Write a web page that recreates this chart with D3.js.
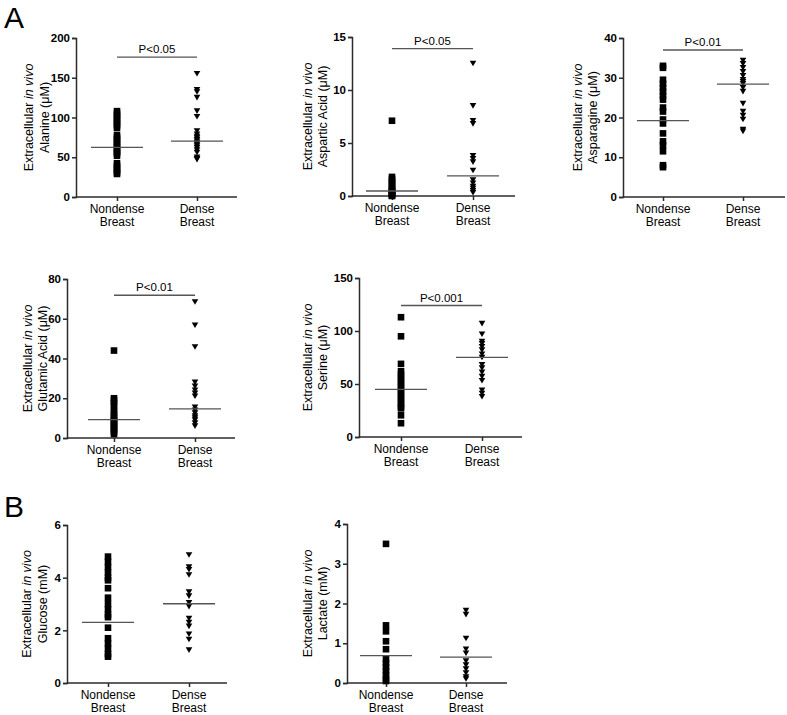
<!DOCTYPE html>
<html><head><meta charset="utf-8">
<script src="https://cdnjs.cloudflare.com/ajax/libs/d3/7.8.5/d3.min.js"></script>
<style>
body{margin:0;background:#fff;}
svg{display:block;font-family:"Liberation Sans",Arial,Helvetica,sans-serif;}
</style></head>
<body><svg id="chart" width="787" height="715"></svg>
<script>
// ---------------- data ----------------
const categories = ["Nondense", "Dense"];
const categorySub = "Breast";
const analytes = ["Alanine (μM)", "Aspartic Acid (μM)", "Asparagine (μM)", "Glutamic Acid (μM)", "Serine (μM)", "Glucose (mM)", "Lactate (mM)"];
const yMax = [200, 15, 40, 80, 150, 6, 4];
const yTicks = [[0,50,100,150,200],[0,5,10,15],[0,10,20,30,40],[0,20,40,60,80],[0,50,100,150],[0,2,4,6],[0,1,2,3,4]];

const alanineNondense = [108,105,102,99,96,93,90,87,78,75,72,69,66,63,60,57,55,52,42.5,39.5,36.5,33.5,31,29];
const alanineDense = [155,135,132,125,108,101,83,79,76,74,72,70,68,66,64,62,59,56,50,48,47];
const asparticNondense = [7.1,1.8,1.6,1.4,1.2,1.0,0.8,0.6,0.5,0.4,0.3,0.2,0.1,0.05,0.0];
const asparticDense = [12.5,8.5,7.1,6.8,3.8,3.5,3.2,2.4,1.5,1.2,0.9,0.7,0.5,0.3];
const asparagineNondense = [33,32.5,29.5,28.5,27.5,26.5,25.5,24.5,22.5,21.5,19.5,18.5,16,14,13,11.5,8,7.5];
const asparagineDense = [34.3,33.5,32.5,31.5,30.5,29.5,29,28.5,27.5,26.5,23.5,21.5,20.5,19.5,17,16.5];
const glutamicNondense = [44,20,19,17.5,16,14,12.5,11,10,9,8,7,6,5,4,3,2];
const glutamicDense = [68.4,56.7,45.8,28,26,24,22.5,21,15.5,14,12.5,11,10,9,7.5,6];
const serineNondense = [113,95,69,62,59,56,53,50,47,44,41,38,35,32,29,27,20.5,13];
const serineDense = [107,97,90,88,85,82,78,75,68,65,61,57,53,44,41,38];
const glucoseNondense = [4.8,4.6,4.4,4.2,4.0,3.9,3.6,3.24,3.0,2.8,2.6,2.5,2.1,1.7,1.5,1.3,1.1,1.0];
const glucoseDense = [4.86,4.4,4.3,4.1,3.45,3.3,3.05,2.9,2.45,2.3,2.15,1.85,1.65,1.25];
const lactateNondense = [3.5,1.45,1.3,1.05,0.85,0.6,0.5,0.4,0.3,0.2,0.1,0.05];
const lactateDense = [1.82,1.72,1.12,0.85,0.75,0.55,0.45,0.35,0.25,0.15,0.1];

const nondenseSeries = [alanineNondense, asparticNondense, asparagineNondense, glutamicNondense, serineNondense, glucoseNondense, lactateNondense];
const denseSeries = [alanineDense, asparticDense, asparagineDense, glutamicDense, serineDense, glucoseDense, lactateDense];
const centreNondense = [62.5, 0.47, 19.2, 9.2, 45, 2.3, 0.69];
const centreDense = [70.4, 1.9, 28.4, 14.7, 75.2, 3.01, 0.65];
const pLabels = ["P<0.05", "P<0.05", "P<0.01", "P<0.01", "P<0.001", null, null];
const bracketValue = [176, 13.9, 37, 71.8, 124, null, null];
const panelLetters = ["A", "B"];

// ---------------- layout ----------------
const layout = [
  {x0:76,  x1:237, yTop:38,  yBot:197, cL:117, cR:197, l1:47, l2:31},
  {x0:352, x1:515, yTop:37,  yBot:196, cL:392, cR:473, l1:44, l2:29},
  {x0:623, x1:785, yTop:38,  yBot:197, cL:663, cR:743, l1:45, l2:30},
  {x0:67,  x1:235, yTop:279, yBot:438, cL:114, cR:195, l1:39, l2:24},
  {x0:359, x1:522, yTop:278, yBot:437, cL:401, cR:482, l1:51, l2:36},
  {x0:67,  x1:227, yTop:525, yBot:683, cL:108, cR:189, l1:40, l2:24},
  {x0:347, x1:507, yTop:524, yBot:683, cL:386, cR:466, l1:39, l2:24}
];
const letterPos = [{x:4, y:28}, {x:4, y:517}];

const svg = d3.select("#chart");
const axisColor = "#2b2b2b";
const lineColor = "#555";

panelLetters.forEach((t, i) => {
  svg.append("text").attr("x", letterPos[i].x).attr("y", letterPos[i].y)
    .attr("font-size", 30).attr("fill", "#000").text(t);
});

const sq = 6.6, triW = 6.6, triH = 5.6;

analytes.forEach((name, i) => {
  const L = layout[i];
  const g = svg.append("g");
  const y = d3.scaleLinear().domain([0, yMax[i]]).range([L.yBot, L.yTop]);
  const x = d3.scalePoint().domain(categories).range([L.cL, L.cR]);

  // y axis
  const ya = g.append("g").attr("transform", `translate(${L.x0},0)`)
    .call(d3.axisLeft(y).tickValues(yTicks[i]).tickSize(4).tickPadding(2).tickFormat(d3.format("d")));
  ya.select(".domain").attr("stroke", axisColor).attr("stroke-width", 1.5);
  ya.selectAll(".tick line").attr("stroke", axisColor).attr("stroke-width", 1.5);
  ya.selectAll(".tick text").attr("font-size", 11.5).attr("font-weight", "bold")
    .attr("font-family", "Liberation Sans, Arial, sans-serif").attr("fill", "#000");

  // x axis
  g.append("line").attr("x1", L.x0).attr("x2", L.x1).attr("y1", L.yBot).attr("y2", L.yBot)
    .attr("stroke", axisColor).attr("stroke-width", 1.5);
  const xa = g.append("g").attr("transform", `translate(0,${L.yBot})`)
    .call(d3.axisBottom(x).tickSize(4).tickFormat(""));
  xa.select(".domain").remove();
  xa.selectAll(".tick line").attr("stroke", axisColor).attr("stroke-width", 1.5);
  categories.forEach(c => {
    const t = g.append("text").attr("x", x(c)).attr("text-anchor", "middle")
      .attr("font-size", 12).attr("fill", "#000");
    t.append("tspan").attr("x", x(c)).attr("y", L.yBot + 15.5).text(c);
    t.append("tspan").attr("x", x(c)).attr("y", L.yBot + 29).text(categorySub);
  });

  // y label
  const cy = (L.yTop + L.yBot) / 2;
  const lab1 = g.append("text").attr("transform", `translate(${L.x0 - L.l1 + 4.4},${cy}) rotate(-90)`)
    .attr("text-anchor", "middle").attr("font-size", 12.5).attr("fill", "#000");
  lab1.append("tspan").text("Extracellular ");
  lab1.append("tspan").attr("font-style", "italic").text("in vivo");
  g.append("text").attr("transform", `translate(${L.x0 - L.l2 + 4.4},${cy}) rotate(-90)`)
    .attr("text-anchor", "middle").attr("font-size", 12.5).attr("fill", "#000").text(name);

  // points
  g.selectAll("rect.pt").data(nondenseSeries[i]).enter().append("rect").attr("class", "pt")
    .attr("x", x(categories[0]) - sq / 2).attr("y", d => y(d) - sq / 2)
    .attr("width", sq).attr("height", sq).attr("fill", "#000");
  g.selectAll("path.pt").data(denseSeries[i]).enter().append("path").attr("class", "pt")
    .attr("d", d => {
      const cx = x(categories[1]), c = y(d);
      return `M${cx - triW/2},${c - triH/2}L${cx + triW/2},${c - triH/2}L${cx},${c + triH/2}Z`;
    }).attr("fill", "#000");

  // centre lines
  [[categories[0], centreNondense[i]], [categories[1], centreDense[i]]].forEach(([c, v]) => {
    g.append("line").attr("x1", x(c) - 26).attr("x2", x(c) + 26)
      .attr("y1", y(v)).attr("y2", y(v)).attr("stroke", lineColor).attr("stroke-width", 1.3);
  });

  // significance bracket
  if (pLabels[i]) {
    const by = y(bracketValue[i]);
    g.append("line").attr("x1", x(categories[0])).attr("x2", x(categories[1]))
      .attr("y1", by).attr("y2", by).attr("stroke", lineColor).attr("stroke-width", 1.4);
    g.append("text").attr("x", (x(categories[0]) + x(categories[1])) / 2).attr("y", by - 4)
      .attr("text-anchor", "middle").attr("font-size", 11.5).attr("fill", "#000").text(pLabels[i]);
  }
});
</script></body></html>
